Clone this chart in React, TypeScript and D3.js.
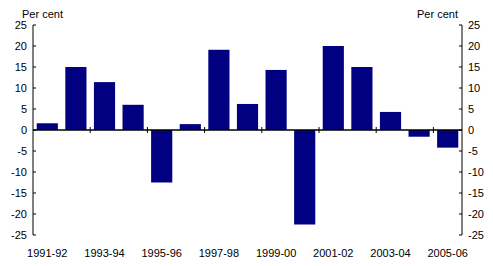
import React from "react";
import * as d3 from "d3";

const categories = ["1991-92","1992-93","1993-94","1994-95","1995-96","1996-97","1997-98","1998-99","1999-00","2000-01","2001-02","2002-03","2003-04","2004-05","2005-06"];
const values = [1.6, 15.0, 11.4, 6.0, -12.5, 1.4, 19.1, 6.2, 14.3, -22.5, 20.0, 15.0, 4.3, -1.6, -4.2];
const yTicks = [25, 20, 15, 10, 5, 0, -5, -10, -15, -20, -25];
const xLabels = ["1991-92","1993-94","1995-96","1997-98","1999-00","2001-02","2003-04","2005-06"];
const unitLabel = "Per cent";

export default function App() {
  const W = 493, H = 266;
  const left = 33, right = 462, top = 25, bottom = 235;
  const x = d3.scaleBand<string>().domain(categories).range([left, right]).paddingInner(0.26).paddingOuter(0.13);
  const xc = d3.scaleBand<string>().domain(categories).range([left, right]);
  const y = d3.scaleLinear().domain([-25, 25]).range([bottom, top]);
  const font = "Arial, 'Liberation Sans', sans-serif";
  const fs = 11;
  return (
    <svg width={W} height={H} style={{ position: "absolute", left: 0, top: 0 }}>
      <rect width={W} height={H} fill="#fff" />
      {values.map((v, i) => (
        <rect key={i} x={x(categories[i])} width={x.bandwidth()}
          y={y(Math.max(0, v))} height={Math.abs(y(v) - y(0))} fill="#000080" />
      ))}
      <line x1={left} x2={right} y1={y(0)} y2={y(0)} stroke="#000" strokeWidth={1.5} />
      {categories.map((c, i) => i > 0 && i % 2 === 0 ? (
        <line key={c} x1={xc(c)!} x2={xc(c)!} y1={y(0) - 3} y2={y(0) + 3} stroke="#000" />
      ) : null)}
      <line x1={left} x2={left} y1={top} y2={bottom} stroke="#000" />
      <line x1={right} x2={right} y1={top} y2={bottom} stroke="#000" />
      {yTicks.map(t => (
        <g key={t}>
          <line x1={left} x2={left + 3} y1={y(t)} y2={y(t)} stroke="#000" />
          <line x1={right - 3} x2={right} y1={y(t)} y2={y(t)} stroke="#000" />
          <text x={27} y={y(t)} dy="0.35em" textAnchor="end" fontFamily={font} fontSize={fs}>{t}</text>
          <text x={468} y={y(t)} dy="0.35em" textAnchor="start" fontFamily={font} fontSize={fs}>{t}</text>
        </g>
      ))}
      {xLabels.map(l => (
        <text key={l} x={xc(l)! + xc.bandwidth() / 2} y={253} dy="0.35em" textAnchor="middle" fontFamily={font} fontSize={fs}>{l}</text>
      ))}
      <text x={22} y={14} dy="0.35em" fontFamily={font} fontSize={fs}>{unitLabel}</text>
      <text x={458} y={14} dy="0.35em" textAnchor="end" fontFamily={font} fontSize={fs}>{unitLabel}</text>
    </svg>
  );
}
